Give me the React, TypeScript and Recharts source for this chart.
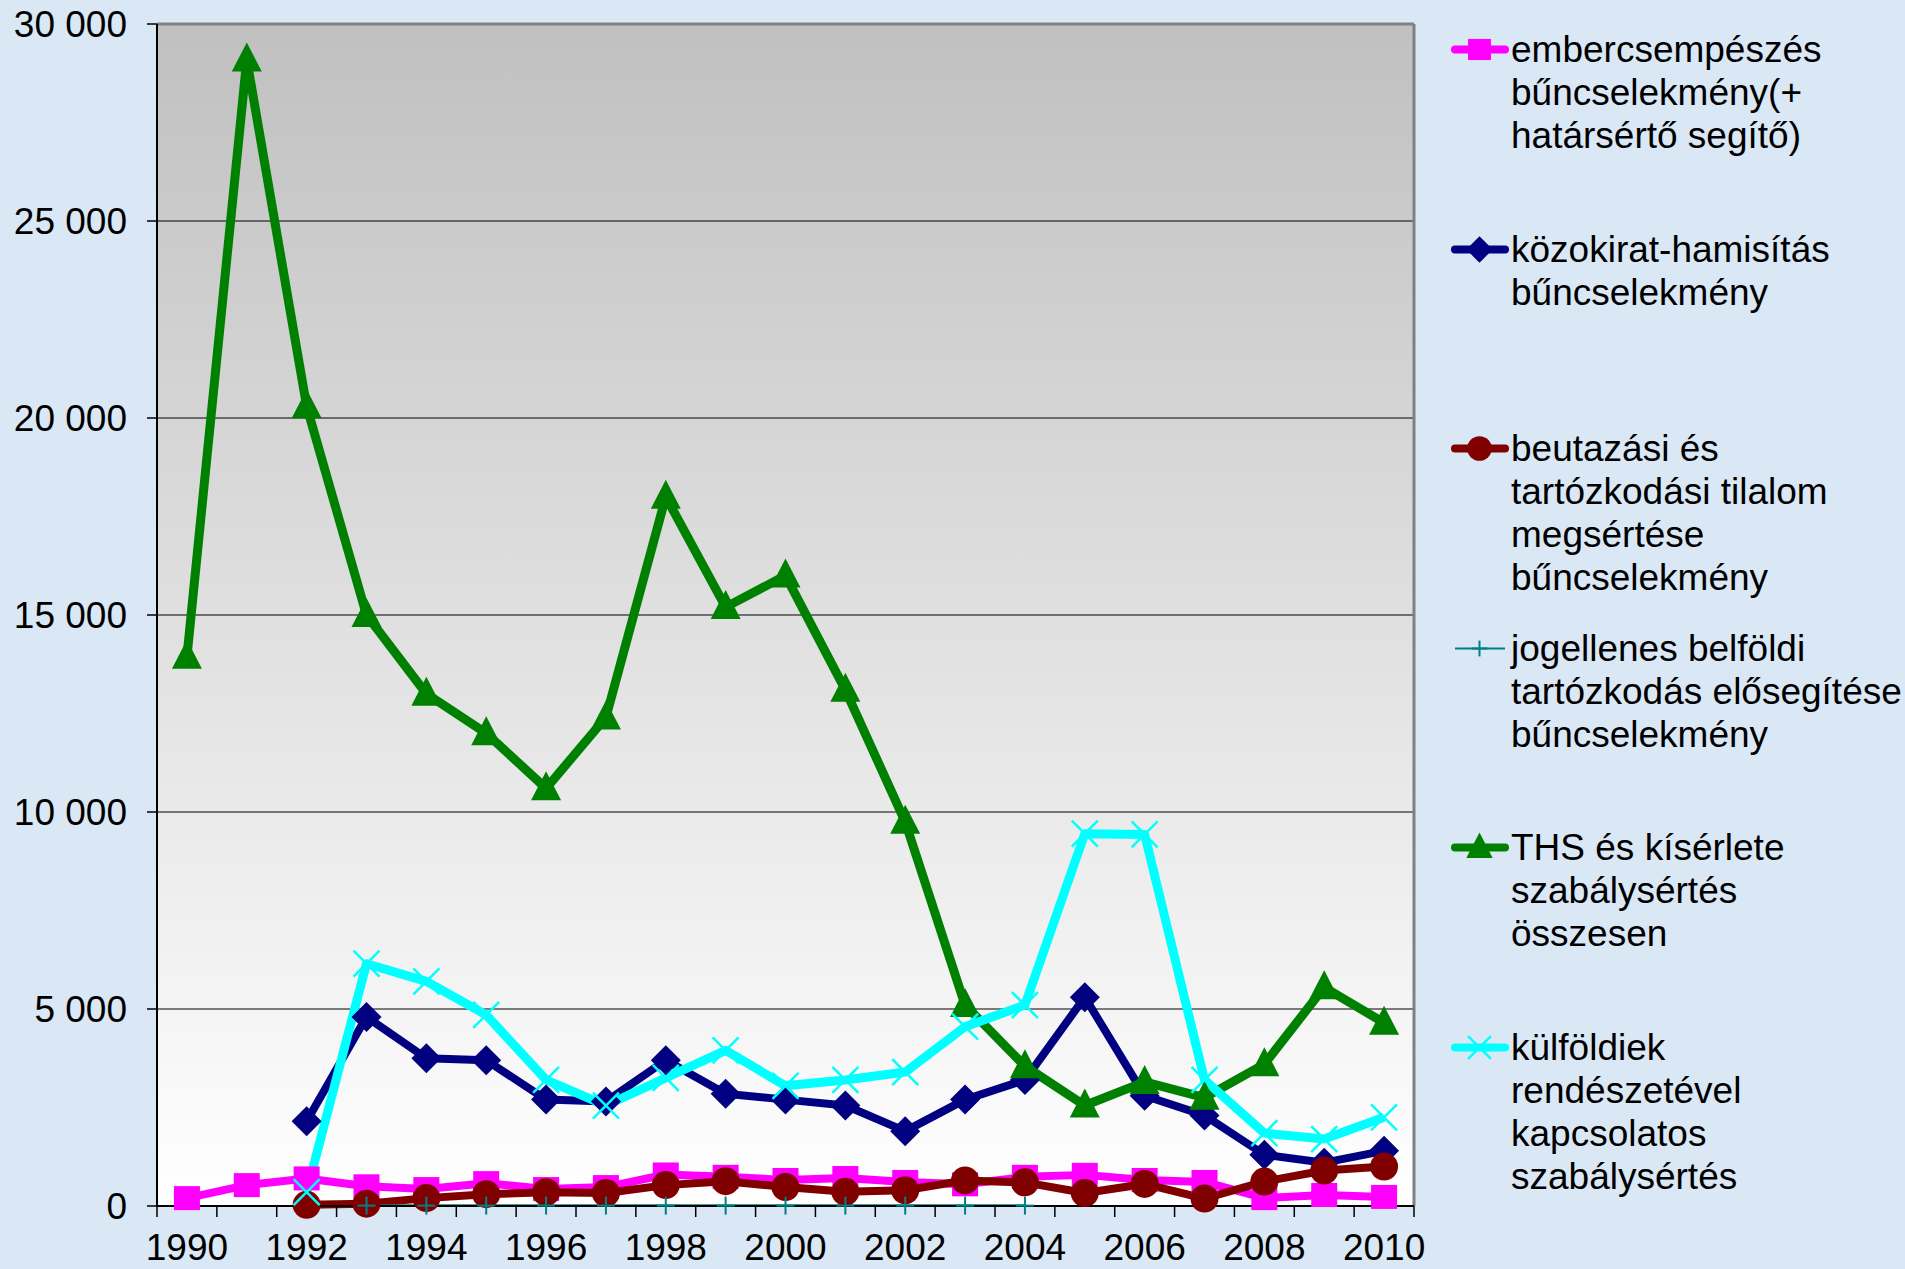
import React from 'react';
import { LineChart, Line, XAxis, YAxis, CartesianGrid, ReferenceLine } from 'recharts';

const years = [1990, 1991, 1992, 1993, 1994, 1995, 1996, 1997, 1998, 1999, 2000, 2001, 2002, 2003, 2004, 2005, 2006, 2007, 2008, 2009, 2010];
const tickYears = [1990, 1992, 1994, 1996, 1998, 2000, 2002, 2004, 2006, 2008, 2010];
const yTicks = [0, 5000, 10000, 15000, 20000, 25000, 30000];

const embercsempeszes = [200, 530, 700, 500, 430, 580, 430, 480, 800, 740, 660, 710, 610, 550, 740, 790, 660, 610, 200, 280, 230];
const kozokirat = [null, null, 2150, 4800, 3750, 3700, 2700, 2650, 3700, 2850, 2700, 2550, 1900, 2700, 3200, 5300, 2800, 2300, 1300, 1100, 1400];
const beutazasi = [null, null, 30, 60, 200, 300, 350, 330, 530, 630, 480, 360, 400, 650, 600, 330, 560, 190, 620, 900, 1000];
const jogellenes = [null, null, null, 10, 10, 10, 10, 10, 10, 10, 10, 10, 10, 10, 10, null, null, null, null, null, null];
const ths = [13940, 29100, 20300, 15000, 13000, 12000, 10600, 12400, 18000, 15200, 16000, 13100, 9750, 5100, 3550, 2550, 3150, 2750, 3600, 5550, 4650];
const kulfoldiek = [null, null, 350, 6150, 5700, 4850, 3200, 2550, 3250, 3950, 3050, 3200, 3400, 4550, 5100, 9450, 9430, 3200, 1850, 1700, 2250];

const data = years.map((year, i) => ({
  year,
  embercsempeszes: embercsempeszes[i],
  kozokirat: kozokirat[i],
  beutazasi: beutazasi[i],
  jogellenes: jogellenes[i],
  ths: ths[i],
  kulfoldiek: kulfoldiek[i],
}));

const FONT = '"Liberation Sans", Arial, sans-serif';

type Shape = 'square' | 'diamond' | 'circle' | 'plus' | 'triangle' | 'cross';

const series: { key: string; color: string; width: number; shape: Shape; lines: string[] }[] = [
  { key: 'embercsempeszes', color: '#ff00ff', width: 8, shape: 'square', lines: ['embercsempészés', 'bűncselekmény(+', 'határsértő segítő)'] },
  { key: 'kozokirat', color: '#000080', width: 8, shape: 'diamond', lines: ['közokirat-hamisítás', 'bűncselekmény'] },
  { key: 'beutazasi', color: '#800000', width: 8, shape: 'circle', lines: ['beutazási és', 'tartózkodási tilalom', 'megsértése', 'bűncselekmény'] },
  { key: 'jogellenes', color: '#008080', width: 2.5, shape: 'plus', lines: ['jogellenes belföldi', 'tartózkodás elősegítése', 'bűncselekmény'] },
  { key: 'ths', color: '#008000', width: 9, shape: 'triangle', lines: ['THS és kísérlete', 'szabálysértés', 'összesen'] },
  { key: 'kulfoldiek', color: '#00ffff', width: 9, shape: 'cross', lines: ['külföldiek', 'rendészetével', 'kapcsolatos', 'szabálysértés'] },
];

function marker(shape: Shape, color: string, cx: number, cy: number, s: number) {
  switch (shape) {
    case 'square':
      return <rect x={cx - 13 * s} y={cy - 12 * s} width={26 * s} height={24 * s} fill={color} />;
    case 'diamond':
      return <polygon points={`${cx},${cy - 15 * s} ${cx + 15 * s},${cy} ${cx},${cy + 15 * s} ${cx - 15 * s},${cy}`} fill={color} />;
    case 'circle':
      return <circle cx={cx} cy={cy} r={14 * s} fill={color} />;
    case 'triangle':
      return <polygon points={`${cx},${cy - 17 * s} ${cx + 15 * s},${cy + 12 * s} ${cx - 15 * s},${cy + 12 * s}`} fill={color} />;
    case 'plus':
      return (
        <g stroke={color} strokeWidth={2}>
          <line x1={cx - 9 * s} y1={cy} x2={cx + 9 * s} y2={cy} />
          <line x1={cx} y1={cy - 9 * s} x2={cx} y2={cy + 9 * s} />
        </g>
      );
    case 'cross':
      return (
        <g stroke={color} strokeWidth={2.5}>
          <line x1={cx - 13 * s} y1={cy - 13 * s} x2={cx + 13 * s} y2={cy + 13 * s} />
          <line x1={cx - 13 * s} y1={cy + 13 * s} x2={cx + 13 * s} y2={cy - 13 * s} />
        </g>
      );
  }
}

const makeDot = (shape: Shape, color: string) => (props: any) => {
  const { cx, cy, value, index } = props;
  if (cx == null || cy == null || value == null) return <g key={`e-${index}`} />;
  return <g key={`d-${index}`}>{marker(shape, color, cx, cy, 1)}</g>;
};

const fmt = (v: number) => String(v).replace(/\B(?=(\d{3})+(?!\d))/g, ' ');

const xTicks = [...years.map((y) => y - 0.5), 2010.5, ...tickYears].sort((a, b) => a - b);

const XTick = (props: any) => {
  const { x, y, payload } = props;
  const v = payload.value;
  if (v % 1 !== 0) {
    return <line x1={x} y1={y} x2={x} y2={y + 11} stroke="#000" strokeWidth={1.5} />;
  }
  return (
    <text x={x} y={y + 54} textAnchor="middle" fontSize={37} fontFamily={FONT} fill="#000">
      {v}
    </text>
  );
};

function LegendBox() {
  return (
    <div style={{ position: 'absolute', left: 1450, top: 28, width: 455, fontFamily: FONT, fontSize: 37, lineHeight: '43px', color: '#000' }}>
      {series.map((s, i) => (
        <div key={s.key} style={{ position: 'absolute', top: i * 199.5, left: 0, whiteSpace: 'nowrap' }}>
          <svg width={60} height={43} style={{ position: 'absolute', left: 0, top: 0 }}>
            <line x1={5} y1={21.5} x2={55} y2={21.5} stroke={s.color} strokeWidth={s.shape === 'plus' ? 2 : 8} strokeLinecap={s.shape === 'plus' ? 'butt' : 'round'} />
            {marker(s.shape, s.color, 29.5, 21.5, 0.88)}
          </svg>
          <div style={{ marginLeft: 61 }}>
            {s.lines.map((l) => (
              <div key={l}>{l}</div>
            ))}
          </div>
        </div>
      ))}
    </div>
  );
}

export default function App() {
  return (
    <div style={{ position: 'absolute', left: 0, top: 0, width: 1905, height: 1269, background: '#dae7f5', overflow: 'hidden' }}>
      <LineChart width={1905} height={1269} data={data} margin={{ top: 24, right: 491, bottom: 0, left: 0 }}>
        <defs>
          <linearGradient id="plotBg" x1="0" y1="0" x2="0" y2="1">
            <stop offset="0" stopColor="#c0c0c0" />
            <stop offset="1" stopColor="#ffffff" />
          </linearGradient>
        </defs>
        <CartesianGrid vertical={false} stroke="#000" strokeWidth={1} fill="url(#plotBg)" fillOpacity={1} />
        <XAxis
          dataKey="year"
          type="number"
          domain={[1989.5, 2010.5]}
          ticks={xTicks}
          interval={0}
          tick={<XTick />}
          tickLine={false}
          tickSize={0}
          tickMargin={0}
          height={63}
          axisLine={{ stroke: '#000', strokeWidth: 2 }}
        />
        <YAxis
          domain={[0, 30000]}
          ticks={yTicks}
          interval={0}
          width={157}
          tickFormatter={fmt}
          tickSize={10}
          tickMargin={20}
          tick={{ fontSize: 37, fontFamily: FONT, fill: '#000' }}
          tickLine={{ stroke: '#000', strokeWidth: 1.5 }}
          axisLine={{ stroke: '#000', strokeWidth: 2 }}
        />
        <ReferenceLine y={30000} stroke="#808080" strokeWidth={3} />
        <ReferenceLine x={2010.5} stroke="#808080" strokeWidth={3} />
        {series.map((s) => (
          <Line
            key={s.key}
            dataKey={s.key}
            name={s.lines.join(' ')}
            stroke={s.color}
            strokeWidth={s.width}
            strokeLinejoin="round"
            dot={makeDot(s.shape, s.color)}
            activeDot={false}
            isAnimationActive={false}
          />
        ))}
      </LineChart>
      <LegendBox />
    </div>
  );
}
